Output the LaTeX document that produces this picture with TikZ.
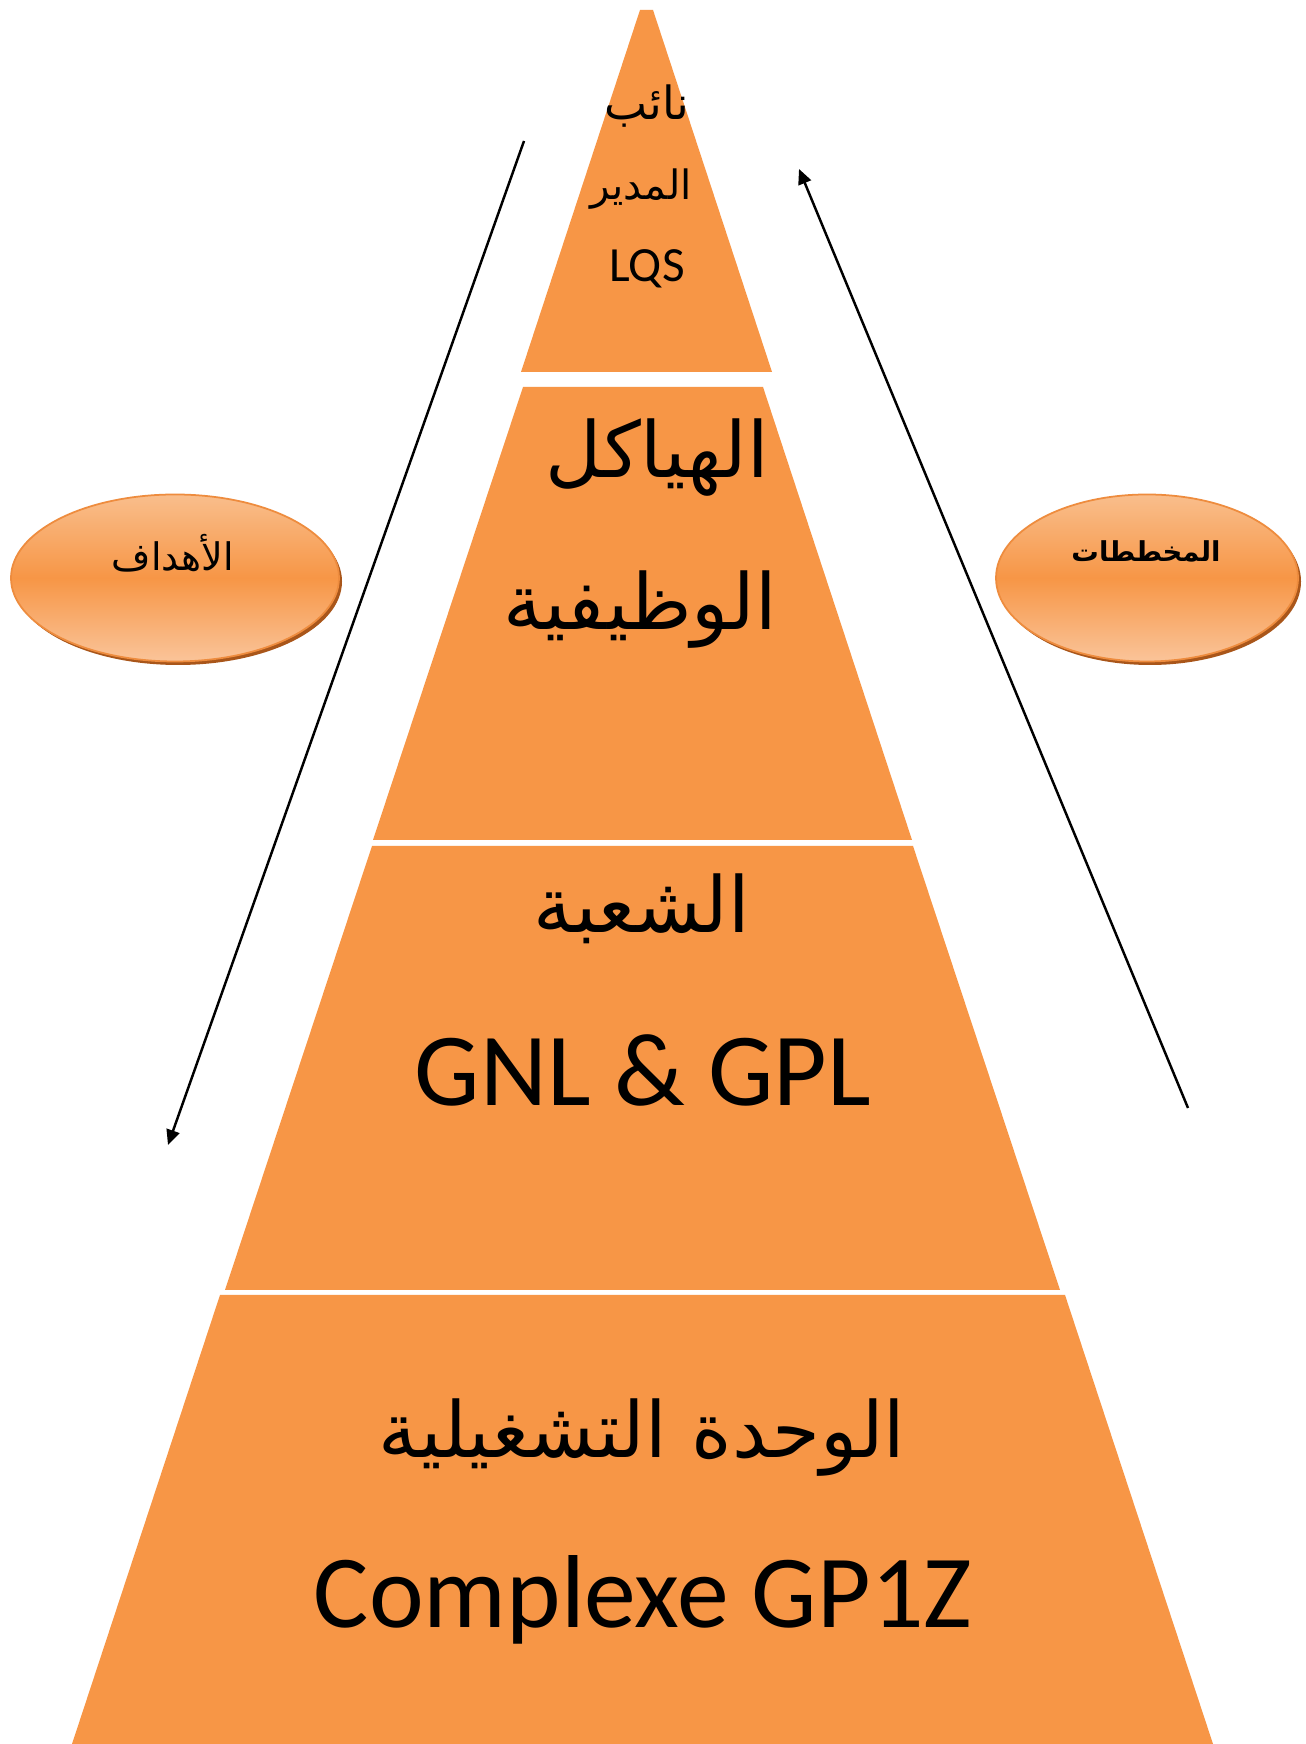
\documentclass[tikz,border=0pt]{standalone}
\usepackage{fontspec}
\setmainfont{Carlito}
\newfontfamily\arabicfont[Script=Arabic]{DejaVu Sans}
\TeXXeTstate=1
\usetikzlibrary{arrows.meta,shapes.geometric}
\definecolor{pyrFill}{HTML}{F79646}
\definecolor{pyrOvalTop}{HTML}{F9BE8C}
\definecolor{pyrOvalBottom}{HTML}{FAC49A}
\definecolor{pyrOvalEdge}{HTML}{EE8C3E}
\definecolor{pyrShadow}{HTML}{A9561A}
\newcommand{\arabtxt}[1]{{\arabicfont\beginR #1\endR}}

\begin{document}
\begin{tikzpicture}[x=1cm,y=1cm,
  pyrtext/.style={inner sep=0pt,text=black},
  pyroval/.style={ellipse,inner sep=0pt,line width=0.5pt,draw=pyrOvalEdge,
    top color=pyrOvalTop,bottom color=pyrOvalBottom,middle color=pyrFill},
  pyrarrow/.style={draw=black,line width=0.7pt,-{Triangle[length=4.3pt,width=3.8pt]}}]
  \fill[white] (0,0) rectangle (13.05,17.44);
  \path[use as bounding box] (0,0) rectangle (13.05,17.44);

  % four slices of the pyramid, from the top down
  \foreach \tl/\tr/\br/\bl in {
      {(6.40,17.34)}/{(6.53,17.34)}/{(7.72,13.72)}/{(5.21,13.72)},
      {(5.23,13.57)}/{(7.63,13.57)}/{(9.12,9.04)}/{(3.73,9.04)},
      {(3.72,8.98)}/{(9.13,8.98)}/{(10.60,4.54)}/{(2.25,4.54)},
      {(2.20,4.49)}/{(10.65,4.49)}/{(12.13,0)}/{(0.72,0)}}
    {\fill[pyrFill] \tl -- \tr -- \br -- \bl -- cycle;}

  \node[pyrtext,font=\fontsize{13}{15}\selectfont] (deputyA) at (6.47,16.38) {\arabtxt{نائب}};
  \node[pyrtext,font=\fontsize{11.5}{14}\selectfont] (deputyB) at (6.41,15.55) {\arabtxt{المدير}};
  \node[pyrtext,font=\fontsize{14}{16}\selectfont] (lqs) at (6.47,14.75) {LQS};

  \node[pyrtext,font=\fontsize{22}{26}\selectfont] (structA) at (6.57,12.86) {\arabtxt{الهياكل}};
  \node[pyrtext,font=\fontsize{22}{26}\selectfont] (structB) at (6.40,11.34) {\arabtxt{الوظيفية}};

  \node[pyrtext,font=\fontsize{22}{26}\selectfont] (branch) at (6.42,8.35) {\arabtxt{الشعبة}};
  \node[pyrtext,font=\fontsize{29.5}{34}\selectfont] (gnl) at (6.43,6.74) {GNL \& GPL};

  \node[pyrtext,font=\fontsize{22}{26}\selectfont] (unit) at (6.42,3.06) {\arabtxt{الوحدة التشغيلية}};
  \node[pyrtext,font=\fontsize{29.5}{34}\selectfont] (complexe) at (6.43,1.44) {Complexe GP1Z};

  % side ovals with their dark shadow
  \fill[pyrShadow] (1.78,11.625) ellipse [x radius=1.64,y radius=0.835];
  \node[pyroval,minimum width=3.28cm,minimum height=1.67cm] (goalsOval) at (1.75,11.66) {};
  \node[pyrtext,font=\fontsize{10.8}{13}\selectfont] (goals) at (1.73,11.91) {\arabtxt{الأهداف}};
  \fill[pyrShadow] (11.50,11.625) ellipse [x radius=1.51,y radius=0.835];
  \node[pyroval,minimum width=3.02cm,minimum height=1.67cm] (plansOval) at (11.47,11.66) {};
  \node[pyrtext,font=\bfseries\fontsize{7.8}{10}\selectfont] (plans) at (11.46,11.93) {\arabtxt{المخططات}};

  \coordinate (goalsFrom) at (5.24,16.03);
  \coordinate (goalsTo) at (1.68,5.99);
  \coordinate (plansFrom) at (11.88,6.36);
  \coordinate (plansTo) at (7.99,15.75);
  \draw[pyrarrow] (goalsFrom) -- (goalsTo);
  \draw[pyrarrow] (plansFrom) -- (plansTo);
\end{tikzpicture}
\end{document}
